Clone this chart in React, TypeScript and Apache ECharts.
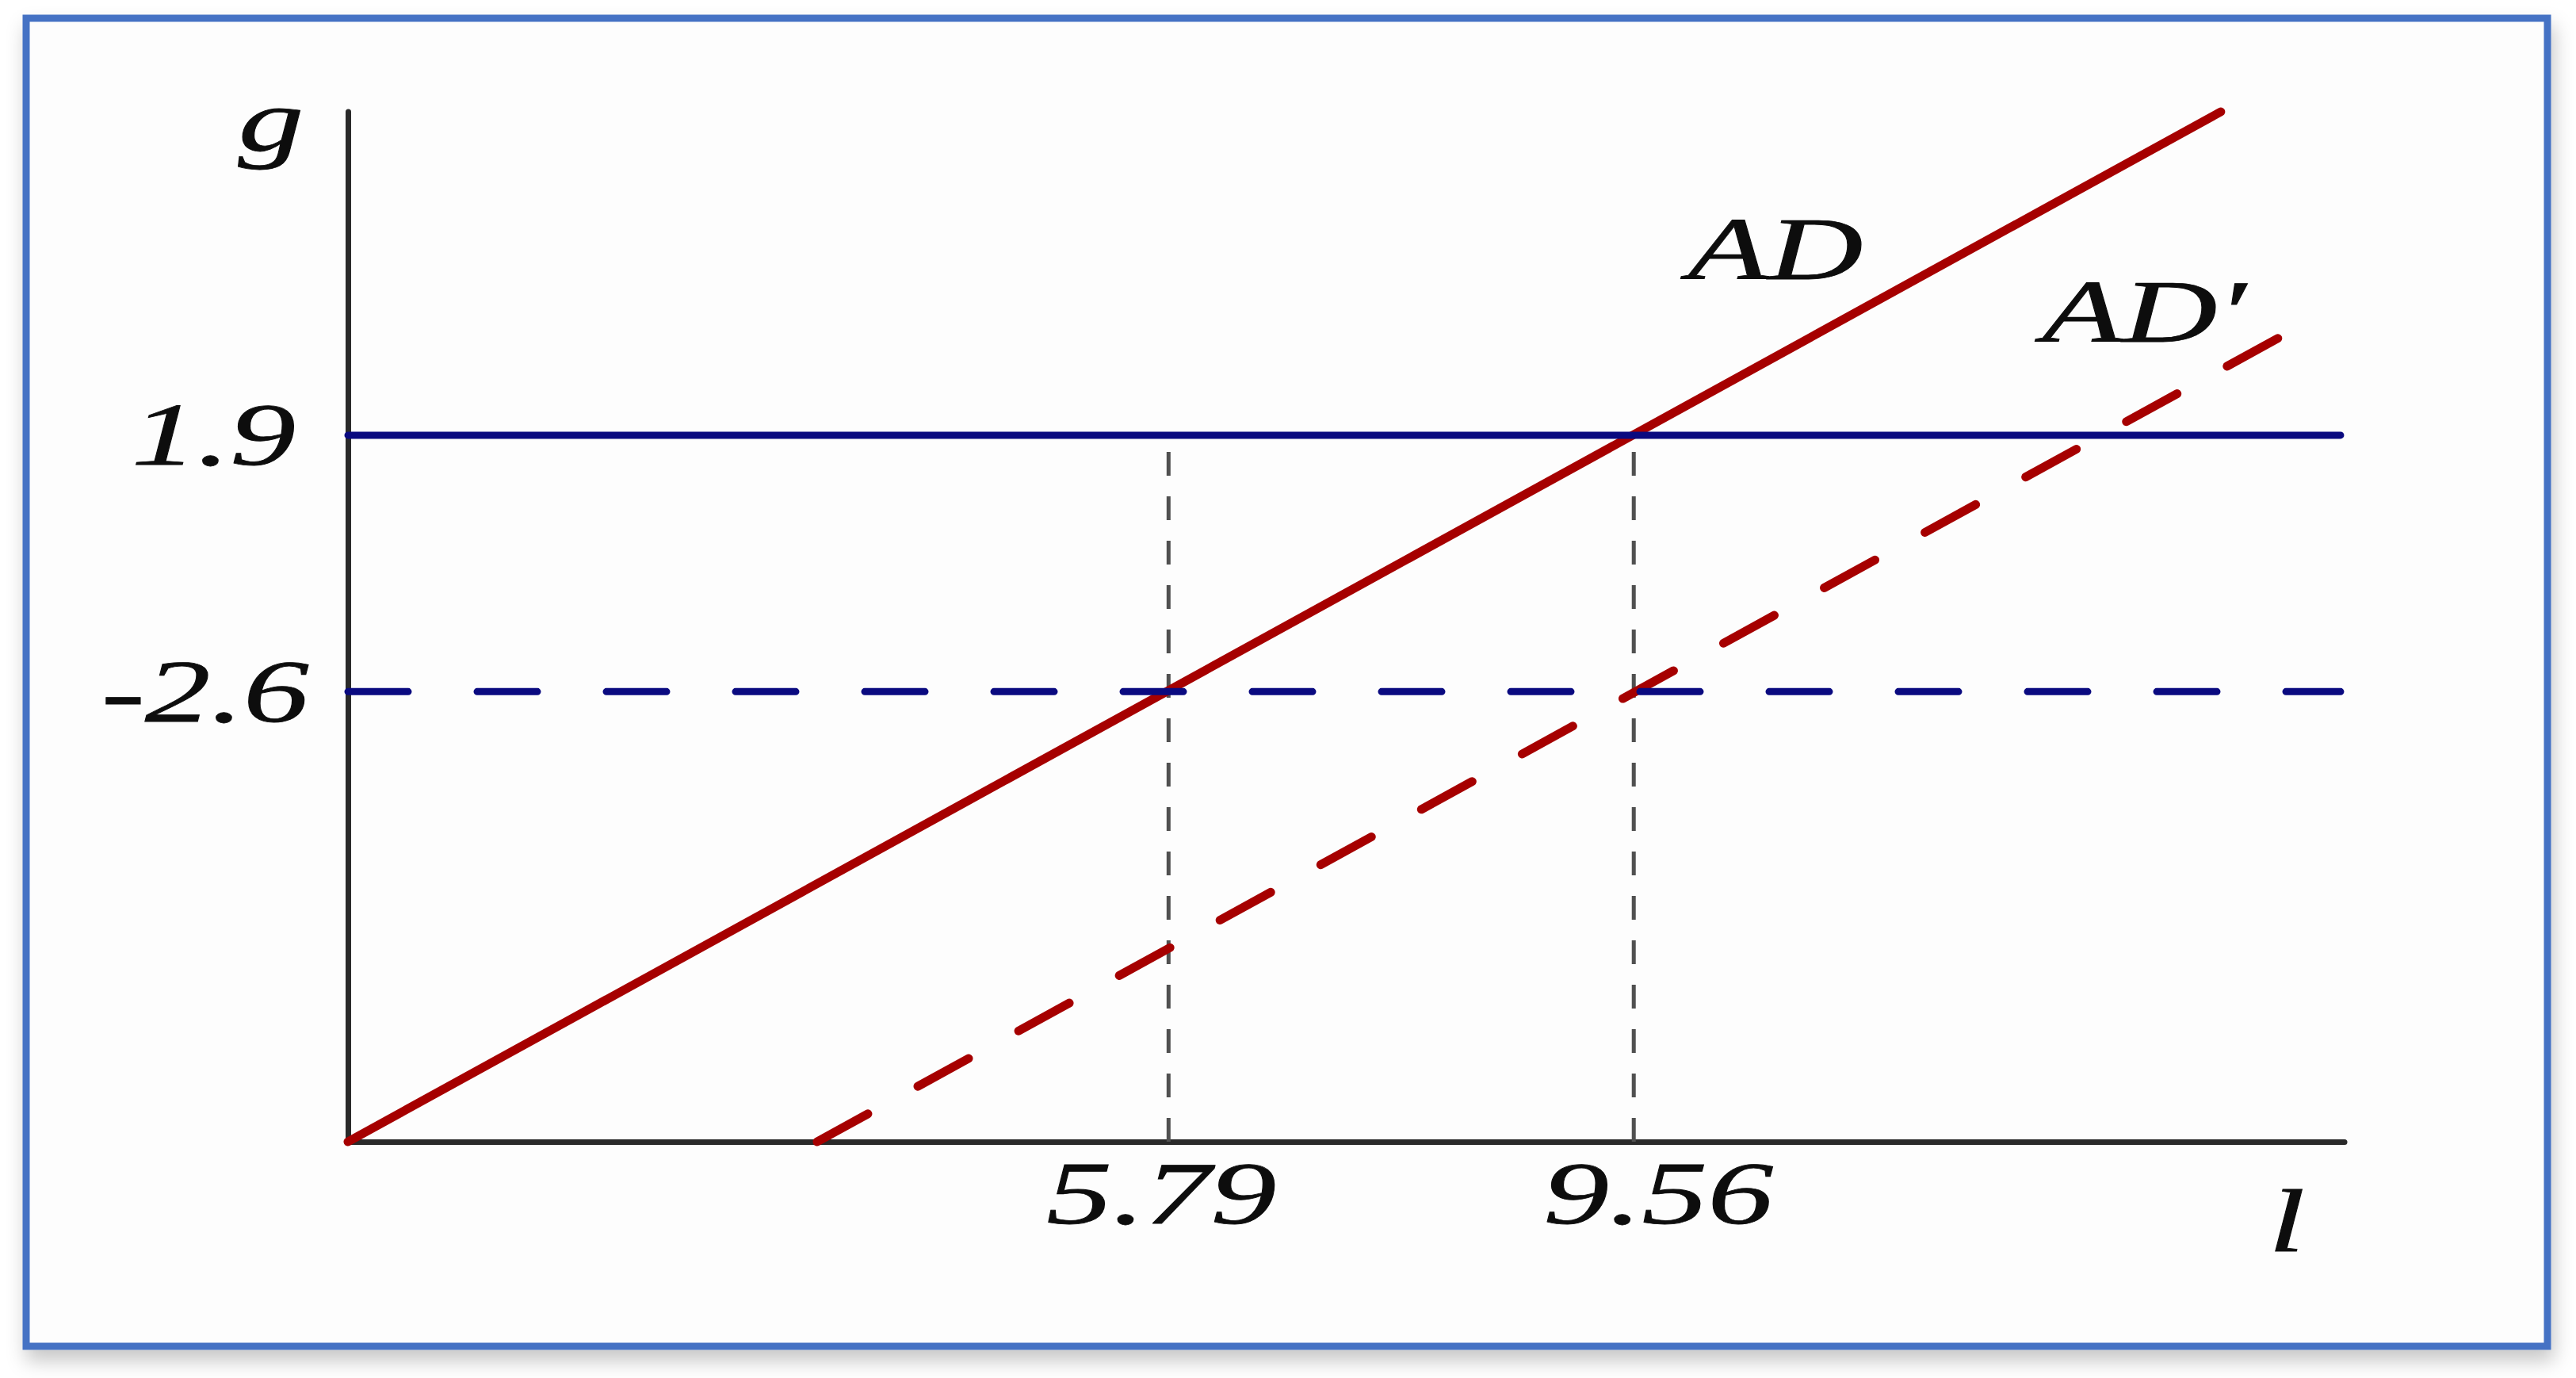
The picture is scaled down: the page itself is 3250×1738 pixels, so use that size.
import React, { useEffect, useRef } from "react";
import * as echarts from "echarts";

// ---- data (schematic units: both axes run 0..100) ----
const xTickLabels = ["5.79", "9.56"];
const xTickValues = [41.1, 64.4];
const yTickLabels = ["1.9", "-2.6"];
const yTickValues = [68.6, 43.7];
const adValues = [
  [0, 0],
  [93.8, 100],
];
const adPrimeValues = [
  [23.5, 0],
  [97.5, 78.9],
];
const levelEnd = 99.8;
const curveNames = ["AD", "AD\u2032"];
const axisNames = ["l", "g"];

export default function App() {
  const ref = useRef<HTMLDivElement>(null);

  useEffect(() => {
    const el = ref.current as HTMLDivElement;
    const chart = echarts.init(el, null, { renderer: "svg" });

    const RED = "#a60000";
    const NAVY = "#0a0a80";
    const AXIS = "#2a2a2a";
    const GRAY = "#505050";
    const FONT_FAMILY = '"Liberation Serif", "Times New Roman", serif';
    const FS = 112;
    const SX = 1.48;

    const dropSeries = xTickValues.map((x, i) => ({
      type: "line",
      name: "drop" + i,
      data: [
        [x, 0],
        [x, yTickValues[0]],
      ],
      symbol: "none",
      silent: true,
      clip: false,
      z: 2,
      lineStyle: { color: GRAY, width: 5, type: [30, 26], cap: "butt" },
    }));

    const option: any = {
      animation: false,
      backgroundColor: "#ffffff",
      grid: { left: 439, top: 141, right: 292, bottom: 298, containLabel: false },
      xAxis: {
        type: "value",
        min: 0,
        max: 100,
        axisLine: { show: true, onZero: false, lineStyle: { color: AXIS, width: 7 } },
        axisTick: { show: false },
        axisLabel: { show: false },
        splitLine: { show: false },
      },
      yAxis: {
        type: "value",
        min: 0,
        max: 100,
        axisLine: { show: true, onZero: false, lineStyle: { color: AXIS, width: 7 } },
        axisTick: { show: false },
        axisLabel: { show: false },
        splitLine: { show: false },
      },
      series: [
        ...dropSeries,
        {
          type: "line",
          name: curveNames[0],
          data: adValues,
          symbol: "none",
          clip: false,
          z: 3,
          lineStyle: { color: RED, width: 11, cap: "round" },
        },
        {
          type: "line",
          name: curveNames[1],
          data: adPrimeValues,
          symbol: "none",
          clip: false,
          z: 3,
          lineStyle: { color: RED, width: 11, type: [73, 72], cap: "round" },
        },
        {
          type: "line",
          name: "level " + yTickLabels[0],
          data: [
            [0, yTickValues[0]],
            [levelEnd, yTickValues[0]],
          ],
          symbol: "none",
          clip: false,
          z: 4,
          lineStyle: { color: NAVY, width: 9, cap: "round" },
        },
        {
          type: "line",
          name: "level " + yTickLabels[1],
          data: [
            [0, yTickValues[1]],
            [levelEnd, yTickValues[1]],
          ],
          symbol: "none",
          clip: false,
          z: 4,
          lineStyle: { color: NAVY, width: 9, type: [76, 87], cap: "round" },
        },
      ],
    };

    chart.setOption(option);

    const txt = (text: string, x: number, y: number, align: string) => ({
      type: "text",
      x,
      y,
      scaleX: SX,
      z: 50,
      silent: true,
      style: {
        text,
        fill: "#0d0d0d",
        stroke: "#0d0d0d",
        lineWidth: 0.8,
        fontSize: FS,
        fontFamily: FONT_FAMILY,
        fontStyle: "italic",
        align,
        textAlign: align,
        verticalAlign: "middle",
        textVerticalAlign: "middle",
      },
    });

    const xDx = [-9, 31];
    const yRight = [-66, -49];
    const graphics: any[] = [
      {
        type: "rect",
        z: -10,
        silent: true,
        shape: { x: 33, y: 23, width: 3181, height: 1675 },
        style: {
          fill: "#fdfdfd",
          stroke: "#4472c4",
          lineWidth: 9,
          shadowBlur: 24,
          shadowOffsetX: 4,
          shadowOffsetY: 14,
          shadowColor: "rgba(0,0,0,0.22)",
        },
      },
    ];
    xTickValues.forEach((v, i) => {
      const p = chart.convertToPixel({ gridIndex: 0 }, [v, 0]) as number[];
      graphics.push(txt(xTickLabels[i], p[0] + xDx[i], p[1] + 65, "center"));
    });
    yTickValues.forEach((v, i) => {
      const p = chart.convertToPixel({ gridIndex: 0 }, [0, v]) as number[];
      graphics.push(txt(yTickLabels[i], p[0] + yRight[i], p[1], "right"));
    });
    graphics.push(txt(axisNames[1], 342, 152, "center"));
    graphics.push(txt(axisNames[0], 2885, 1540, "center"));
    graphics.push(txt(curveNames[0], 2240, 314, "center"));
    graphics.push(txt(curveNames[1], 2705, 393, "center"));

    chart.setOption({ graphic: graphics });

    return () => {
      chart.dispose();
    };
  }, []);

  return (
    <div
      ref={ref}
      style={{ position: "fixed", left: 0, top: 0, width: 3250, height: 1738, background: "#ffffff" }}
    />
  );
}
